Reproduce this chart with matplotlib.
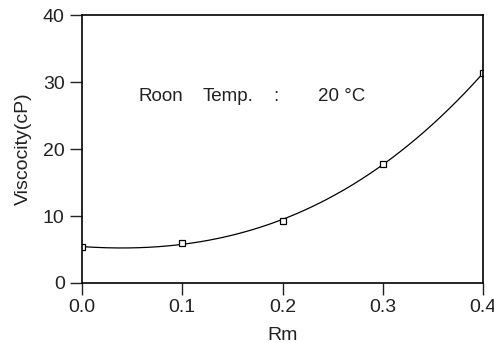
import numpy as np
import matplotlib.pyplot as plt

rm = [0.0, 0.1, 0.2, 0.3, 0.4]
viscosity = [5.4, 5.9, 9.3, 17.8, 31.3]
xticks = [0.0, 0.1, 0.2, 0.3, 0.4]
yticks = [0, 10, 20, 30, 40]

plt.rcParams['font.family'] = ['Liberation Sans', 'DejaVu Sans']

# smooth fitted curve through the measured points
coef = np.polyfit(rm, viscosity, 3)
xs = np.linspace(0, 0.4, 200)
ys = np.polyval(coef, xs)

fig = plt.figure(figsize=(4.94, 3.43), dpi=100)
ax = fig.add_axes([0.166, 0.175, 0.812, 0.781])
ax.plot(xs, ys, color='black', lw=0.9)
ax.plot(rm, viscosity, 's', ms=5, mfc='white', mec='black', mew=0.9)

ax.set_xlim(0, 0.4)
ax.set_ylim(0, 40)
ax.set_xticks(xticks)
ax.set_xticklabels(['%.1f' % v for v in xticks])
ax.set_yticks(yticks)
ax.tick_params(direction='out', length=8.5, width=1, labelsize=14, colors='#222222')
ax.tick_params(axis='x', pad=3)
ax.tick_params(axis='y', pad=4)
for s in ax.spines.values():
    s.set_linewidth(1.2)

ax.set_xlabel('Rm', fontsize=14, color='#222222', labelpad=8)
ax.set_ylabel('Viscocity(cP)', fontsize=14, color='#222222', labelpad=8)

# annotation, pieces spaced like the original plotter text
for xpos, word in [(0.0559, 'Roon'), (0.1207, 'Temp.'), (0.1905, ':'), (0.2354, '20 \u00b0C')]:
    ax.text(xpos, 27.9, word, fontsize=13.5, color='#222222', va='center')

fig.savefig('out.png', dpi=100)
